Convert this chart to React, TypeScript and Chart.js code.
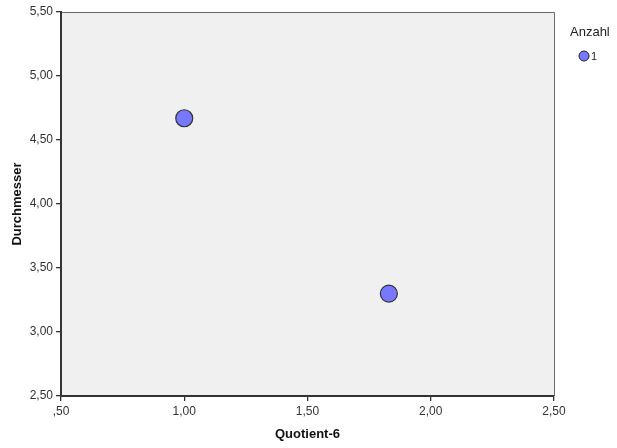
import React, { useEffect, useRef } from "react";
import { Chart, registerables } from "chart.js";

Chart.register(...registerables);

const quotient6 = [1.0, 1.83];
const durchmesser = [4.67, 3.3];
const legendTitle = "Anzahl";
const legendLabels = ["1"];

const fmt = (v: number) => {
  const s = v.toFixed(2).replace(".", ",");
  return s.startsWith("0") ? s.slice(1) : s;
};

const bgPlugin = {
  id: "bgPlugin",
  beforeDraw(chart: any) {
    const { ctx, chartArea } = chart;
    ctx.save();
    ctx.fillStyle = "#F0F0F0";
    ctx.fillRect(chartArea.left, chartArea.top, chartArea.right - chartArea.left, chartArea.bottom - chartArea.top);
    ctx.strokeStyle = "#6a6a6a";
    ctx.lineWidth = 1;
    ctx.beginPath();
    ctx.moveTo(chartArea.left, chartArea.top + 0.5);
    ctx.lineTo(chartArea.right + 0.5, chartArea.top + 0.5);
    ctx.lineTo(chartArea.right + 0.5, chartArea.bottom);
    ctx.stroke();
    ctx.restore();
  },
  afterDraw(chart: any) {
    const { ctx } = chart;
    ctx.save();
    ctx.fillStyle = "#222";
    ctx.font = "13px 'Liberation Sans', Arial, sans-serif";
    ctx.textBaseline = "middle";
    ctx.textAlign = "left";
    ctx.fillText(legendTitle, 570, 32);
    legendLabels.forEach((l, i) => {
      const y = 56 + i * 16;
      ctx.beginPath();
      ctx.arc(584, y, 5, 0, Math.PI * 2);
      ctx.fillStyle = "#7878FF";
      ctx.fill();
      ctx.strokeStyle = "#222";
      ctx.lineWidth = 1;
      ctx.stroke();
      ctx.fillStyle = "#222";
      ctx.font = "11px 'Liberation Sans', Arial, sans-serif";
      ctx.fillText(l, 591, y + 1);
    });
    ctx.restore();
  },
};

export default function App() {
  const ref = useRef<HTMLCanvasElement>(null);
  useEffect(() => {
    if (!ref.current) return;
    const chart = new Chart(ref.current, {
      type: "scatter",
      data: {
        datasets: [
          {
            data: quotient6.map((x, i) => ({ x, y: durchmesser[i] })),
            backgroundColor: "#7878FF",
            borderColor: "#333333",
            borderWidth: 1.2,
            pointRadius: 8.5,
            pointHoverRadius: 8.5,
          },
        ],
      },
      options: {
        animation: false,
        responsive: false,
        maintainAspectRatio: false,
        layout: { padding: { left: 0, right: 63, top: 12, bottom: 0 } },
        plugins: { legend: { display: false }, tooltip: { enabled: false } },
        scales: {
          x: {
            type: "linear",
            min: 0.5,
            max: 2.5,
            afterFit: (s: any) => { s.height = 52; },
            ticks: {
              stepSize: 0.5,
              callback: (v: any) => fmt(Number(v)),
              color: "#333",
              font: { size: 12, family: "'Liberation Sans', Arial, sans-serif" },
              padding: 3,
              maxRotation: 0,
            },
            grid: { display: true, drawOnChartArea: false, drawTicks: true, tickLength: 5, color: "#333", lineWidth: 1.3 },
            border: { display: true, color: "#333", width: 2 },
            title: {
              display: true,
              text: "Quotient-6",
              color: "#111",
              font: { size: 13, weight: "bold", family: "'Liberation Sans', Arial, sans-serif" },
              padding: { top: 2, bottom: 6 },
            },
          },
          y: {
            type: "linear",
            min: 2.5,
            max: 5.5,
            afterFit: (s: any) => { s.width = 61; },
            ticks: {
              stepSize: 0.5,
              callback: (v: any) => fmt(Number(v)),
              color: "#333",
              font: { size: 12, family: "'Liberation Sans', Arial, sans-serif" },
              padding: 3,
            },
            grid: { display: true, drawOnChartArea: false, drawTicks: true, tickLength: 5, color: "#333", lineWidth: 1.3 },
            border: { display: true, color: "#333", width: 2 },
            title: {
              display: true,
              text: "Durchmesser",
              color: "#111",
              font: { size: 13, weight: "bold", family: "'Liberation Sans', Arial, sans-serif" },
              padding: { top: 10, bottom: 4 },
            },
          },
        },
      },
      plugins: [bgPlugin],
    });
    return () => chart.destroy();
  }, []);
  return (
    <div style={{ position: "fixed", left: 0, top: 0, width: 617, height: 448, background: "#fff" }}>
      <canvas ref={ref} width={617} height={448} style={{ width: 617, height: 448 }} />
    </div>
  );
}
